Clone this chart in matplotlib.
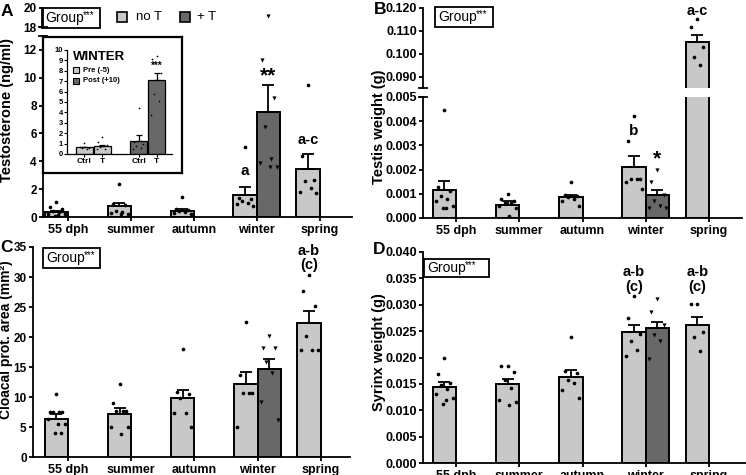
import numpy as np
import matplotlib.pyplot as plt
from matplotlib.patches import Rectangle
from matplotlib.ticker import FormatStrFormatter

plt.rcParams['font.family'] = ['Liberation Sans', 'DejaVu Sans']
plt.rcParams['font.weight'] = 'bold'

W, H = 746, 475
GRIS = '#c8c8c8'
OSCURO = '#686868'
ANCHO = 0.37

categorias = ['55 dph', 'summer', 'autumn', 'winter', 'spring']

# A: testosterona (ng/ml)
testo_media = [0.36, 0.77, 0.45, 1.60, 3.47]
testo_sem = [0.09, 0.23, 0.15, 0.56, 1.08]
testo_puntos = [
    [1.05, 0.7, 0.55, 0.45, 0.35, 0.25, 0.2, 0.15, 0.1],
    [2.4, 0.95, 0.85, 0.45, 0.35, 0.3, 0.25, 0.2],
    [1.45, 0.55, 0.5, 0.45, 0.35, 0.3, 0.25],
    [5.0, 1.4, 1.3, 1.15, 1.0, 0.9, 0.8],
    [9.46, 4.4, 2.65, 2.6, 2.05, 1.8, 1.75],
]
testo_t_media = 7.55
testo_t_sem = 1.91
testo_t_puntos = [19.2, 11.25, 8.55, 6.5, 4.2, 3.85, 3.6, 3.6]

# inset invierno
ins_etiquetas = ['Ctrl', 'T', 'Ctrl', 'T']
ins_pre_media = [0.64, 0.73]
ins_pre_sem = [0.08, 0.17]
ins_post_media = [1.28, 7.09]
ins_post_sem = [0.54, 0.74]
ins_pre_puntos = [[1.1, 0.7, 0.6, 0.55, 0.5], [1.6, 1.2, 0.85, 0.7, 0.5, 0.45]]
ins_post_puntos = [[4.47, 1.2, 0.95, 0.8, 0.6, 0.5], [9.42, 9.17, 7.83, 5.75, 5.11, 3.74]]

# B: peso testiculo (g)
testis_media = [0.00115, 0.00055, 0.00086, 0.00212, 0.105]
testis_sem = [0.00037, 0.00014, 0.00011, 0.00044, 0.003]
testis_puntos = [
    [0.00445, 0.0013, 0.0011, 0.0009, 0.0008, 0.0007, 0.0005, 0.0004, 0.0004],
    [0.0010, 0.0008, 0.0007, 0.0006, 0.0006, 0.0005, 0.0004, 0.0001],
    [0.0015, 0.00097, 0.0009, 0.00085, 0.0008, 0.0007, 0.0005],
    [0.0042, 0.0032, 0.0016, 0.0016, 0.0016, 0.0015, 0.0012],
    [0.1152, 0.1115, 0.1028, 0.0985, 0.0950],
]
testis_t_media = 0.00096
testis_t_sem = 0.00018
testis_t_puntos = [0.0020, 0.0015, 0.00095, 0.0007, 0.0005, 0.0004, 0.0004]

# C: area protuberancia cloacal (mm2)
cloaca_media = [6.35, 7.2, 9.8, 12.1, 22.4]
cloaca_sem = [0.75, 0.9, 1.3, 2.0, 2.0]
cloaca_puntos = [
    [10.5, 7.5, 7.5, 7.5, 7.5, 6.4, 5.5, 5.5, 4.0, 4.0],
    [12.2, 9.0, 7.6, 7.6, 7.6, 5.0, 5.0, 3.8],
    [18.0, 10.8, 10.5, 9.9, 7.4, 7.4, 5.0],
    [22.5, 13.7, 10.6, 10.6, 10.6, 5.0],
    [30.3, 27.6, 25.1, 20.1, 17.9, 17.9, 17.9],
]
cloaca_t_media = 14.6
cloaca_t_sem = 1.7
cloaca_t_puntos = [20.2, 18.1, 18.1, 15.8, 14.0, 9.1, 6.1]

# D: peso siringe (g)
siringe_media = [0.0144, 0.0150, 0.0163, 0.0248, 0.0261]
siringe_sem = [0.0009, 0.0010, 0.0013, 0.0014, 0.0015]
siringe_puntos = [
    [0.0200, 0.0169, 0.0152, 0.0148, 0.0140, 0.0131, 0.0124, 0.0120, 0.0112],
    [0.0184, 0.0184, 0.0173, 0.0158, 0.0142, 0.0119, 0.0116, 0.0110],
    [0.0238, 0.0174, 0.0170, 0.0158, 0.0152, 0.0139, 0.0124],
    [0.0316, 0.0274, 0.0245, 0.0232, 0.0214, 0.0202],
    [0.0302, 0.0301, 0.0248, 0.0238, 0.0212],
]
siringe_t_media = 0.0256
siringe_t_sem = 0.0012
siringe_t_puntos = [0.0310, 0.0286, 0.0262, 0.0243, 0.0231, 0.0198]

fig = plt.figure(figsize=(W / 100, H / 100), dpi=100)


def caja(x0, y0, x1, y1):
    # pixeles (desde arriba) -> fraccion de figura
    return [x0 / W, 1 - y1 / H, (x1 - x0) / W, (y1 - y0) / H]


def estilo(ax, ejex=True, tam=9):
    ax.set_facecolor('none')
    for lado in ['top', 'right']:
        ax.spines[lado].set_visible(False)
    ax.spines['left'].set_linewidth(1.3)
    ax.spines['bottom'].set_linewidth(1.3)
    ax.tick_params(direction='out', length=3, width=1.3, labelsize=9, pad=2)
    ax.tick_params(axis='y', labelsize=tam, pad=1.5)
    if not ejex:
        ax.spines['bottom'].set_visible(False)
        ax.tick_params(axis='x', bottom=False, labelbottom=False)


def tapa(ax, y, ancho_px):
    ax.plot([-4 / ancho_px, 4 / ancho_px], [y, y], transform=ax.transAxes,
            color='k', lw=1.3, clip_on=False)


PATRON = np.array([0, -0.26, 0.26, -0.13, 0.13, -0.36, 0.36, 0.06, -0.06, 0.2])


def puntos(ax, x, valores, marcador='o', s=7):
    dx = PATRON[:len(valores)] * ANCHO
    ax.scatter(x + dx, valores, s=s, c='k', marker=marcador, lw=0, zorder=4)


def barras(ax, medias, sems, lista_puntos, t_media, t_sem, t_puntos):
    x = np.arange(len(categorias))
    xs = x - ANCHO / 2
    xt = 3 + ANCHO / 2
    ax.bar(xs, medias, ANCHO, color=GRIS, edgecolor='k', lw=1.4, zorder=2)
    ax.bar([xt], [t_media], ANCHO, color=OSCURO, edgecolor='k', lw=1.4, zorder=2)
    ax.errorbar(xs, medias, yerr=[np.zeros(len(medias)), sems], fmt='none',
                ecolor='k', elinewidth=1.3, capsize=4.5, capthick=1.3, zorder=3)
    ax.errorbar([xt], [t_media], yerr=[[0], [t_sem]], fmt='none',
                ecolor='k', elinewidth=1.3, capsize=4.5, capthick=1.3, zorder=3)
    for i, vals in enumerate(lista_puntos):
        puntos(ax, xs[i], vals)
    puntos(ax, xt, t_puntos, 'v', 9)
    ax.set_xticks(x, categorias)
    return xs, xt


def caja_grupo(x0, y0, x1, y1):
    fig.patches.append(Rectangle((x0 / W, 1 - y1 / H), (x1 - x0) / W, (y1 - y0) / H,
                                 transform=fig.transFigure, fill=False, ec='k', lw=1.3))
    yc = 1 - (y0 + y1) / 2 / H
    fig.text((x0 + 3) / W, yc, 'Group', fontsize=10, fontweight='normal', va='center')
    fig.text((x0 + 41) / W, yc + 3 / H, '***', fontsize=7, fontweight='normal', va='center')


def cuadro(x0, y0, lado, color, lw=1.2):
    fig.patches.append(Rectangle((x0 / W, 1 - (y0 + lado) / H), lado / W, lado / H,
                                 transform=fig.transFigure, fc=color, ec='k', lw=lw))


# ---------- panel A ----------
axA = fig.add_axes(caja(43, 36, 352, 217))
xs, xt = barras(axA, testo_media, testo_sem, testo_puntos, testo_t_media, testo_t_sem, testo_t_puntos)
estilo(axA, tam=8.5)
axA.set_xlim(-0.397, 4.515)
axA.set_ylim(0, 13)
axA.set_yticks(range(0, 13, 2))
tapa(axA, 1, 309)
axA.text(xs[3], 3.3, 'a', ha='center', va='center', fontsize=11)
axA.text(xt, 10.1, '**', ha='center', va='center', fontsize=15)
axA.text(xs[4], 5.5, 'a-c', ha='center', va='center', fontsize=10.5)

axA2 = fig.add_axes(caja(43, 8, 352, 27))
barras(axA2, testo_media, testo_sem, testo_puntos, testo_t_media, testo_t_sem, testo_t_puntos)
estilo(axA2, ejex=False, tam=8.5)
axA2.set_xlim(-0.397, 4.515)
axA2.set_ylim(18, 20)
axA2.set_yticks([18, 20])
tapa(axA2, 0, 309)

# inset invierno
axF = fig.add_axes(caja(43, 37, 182, 173))
axF.set_xticks([])
axF.set_yticks([])
for sp in axF.spines.values():
    sp.set_linewidth(1.6)

axI = fig.add_axes(caja(67, 50, 172, 154))
ix = np.array([0, 1, 3, 4])
axI.bar(ix[:2], ins_pre_media, 0.95, color=GRIS, edgecolor='k', lw=0.9, zorder=2)
axI.bar(ix[2:], ins_post_media, 0.95, color=OSCURO, edgecolor='k', lw=0.9, zorder=2)
axI.errorbar(ix, ins_pre_media + ins_post_media,
             yerr=[np.zeros(4), ins_pre_sem + ins_post_sem], fmt='none',
             ecolor='k', elinewidth=0.9, capsize=2.5, capthick=0.9, zorder=3)
for k, vals in enumerate(ins_pre_puntos + ins_post_puntos):
    dx = PATRON[:len(vals)] * 0.9
    axI.scatter(ix[k] + dx, vals, s=1.5, c='k', lw=0, zorder=4)
axI.set_facecolor('none')
for lado in ['top', 'right']:
    axI.spines[lado].set_visible(False)
axI.spines['left'].set_linewidth(0.9)
axI.spines['bottom'].set_linewidth(0.9)
axI.tick_params(direction='out', length=2, width=0.8, labelsize=5.5, pad=1)
axI.set_xticks(ix, ins_etiquetas, fontsize=6)
axI.set_yticks(range(0, 11))
axI.set_xlim(-0.97, 4.86)
axI.set_ylim(0, 10)
axI.text(4, 8.5, '***', ha='center', va='center', fontsize=7)
fig.text(73 / W, 1 - 57 / H, 'WINTER', fontsize=9.5, va='center')
cuadro(73, 67, 6, GRIS, 0.8)
cuadro(73, 78, 6, OSCURO, 0.8)
fig.text(83 / W, 1 - 70 / H, 'Pre (-5)', fontsize=5.5, va='center')
fig.text(83 / W, 1 - 81 / H, 'Post (+10)', fontsize=5.5, va='center')

# leyenda general
caja_grupo(42, 8, 100, 28)
cuadro(117, 12, 10, GRIS)
cuadro(180, 12, 10, OSCURO)
fig.text(136 / W, 1 - 17 / H, 'no T', fontsize=9.5, fontweight='normal', va='center')
fig.text(197 / W, 1 - 17 / H, '+ T', fontsize=9.5, fontweight='normal', va='center')

# ---------- panel B ----------
axB = fig.add_axes(caja(423, 97, 742, 218))
xs, xt = barras(axB, testis_media, testis_sem, testis_puntos, testis_t_media, testis_t_sem, testis_t_puntos)
estilo(axB)
axB.set_xlim(-0.522, 4.522)
axB.set_ylim(0, 0.005)
axB.set_yticks(np.arange(0, 0.0051, 0.001))
axB.yaxis.set_major_formatter(FormatStrFormatter('%.3f'))
tapa(axB, 1, 319)
axB.text(xs[3], 0.0036, 'b', ha='center', va='center', fontsize=11)
axB.text(xt, 0.00245, '*', ha='center', va='center', fontsize=15)

axB2 = fig.add_axes(caja(423, 7.8, 742, 88))
barras(axB2, testis_media, testis_sem, testis_puntos, testis_t_media, testis_t_sem, testis_t_puntos)
estilo(axB2, ejex=False)
axB2.set_xlim(-0.522, 4.522)
axB2.set_ylim(0.085, 0.120)
axB2.set_yticks([0.090, 0.100, 0.110, 0.120])
axB2.yaxis.set_major_formatter(FormatStrFormatter('%.3f'))
tapa(axB2, 0, 319)
axB2.text(xs[4], 0.1187, 'a-c', ha='center', va='center', fontsize=10.5)
caja_grupo(435, 7, 493, 27)

# ---------- panel C ----------
axC = fig.add_axes(caja(33, 247, 350, 457))
xs, xt = barras(axC, cloaca_media, cloaca_sem, cloaca_puntos, cloaca_t_media, cloaca_t_sem, cloaca_t_puntos)
estilo(axC, tam=8.5)
axC.set_xlim(-0.554, 4.462)
axC.set_ylim(0, 35)
axC.set_yticks(range(0, 36, 5))
axC.text(xs[4], 33.2, 'a-b\n(c)', ha='center', va='center', fontsize=10.5, linespacing=1.0)
caja_grupo(43, 248, 100, 268)

# ---------- panel D ----------
axD = fig.add_axes(caja(423, 252, 746, 463))
xs, xt = barras(axD, siringe_media, siringe_sem, siringe_puntos, siringe_t_media, siringe_t_sem, siringe_t_puntos)
estilo(axD)
axD.set_xlim(-0.522, 4.585)
axD.set_ylim(0, 0.040)
axD.set_yticks(np.arange(0, 0.0401, 0.005))
axD.yaxis.set_major_formatter(FormatStrFormatter('%.3f'))
axD.text(xs[3], 0.0348, 'a-b\n(c)', ha='center', va='center', fontsize=10.5, linespacing=1.1)
axD.text(xs[4], 0.0348, 'a-b\n(c)', ha='center', va='center', fontsize=10.5, linespacing=1.1)
caja_grupo(424, 259, 489, 277)

# titulos de ejes y letras
fig.text(7.5 / W, 1 - 110 / H, 'Testosterone (ng/ml)', rotation=90, ha='center', va='center', fontsize=10.5)
fig.text(379 / W, 1 - 127 / H, 'Testis weight (g)', rotation=90, ha='center', va='center', fontsize=10.5)
fig.text(6.5 / W, 1 - 340 / H, 'Cloacal prot. area (mm²)', rotation=90, ha='center', va='center', fontsize=10)
fig.text(379 / W, 1 - 352 / H, 'Syrinx weight (g)', rotation=90, ha='center', va='center', fontsize=10.5)
for letra, lx, ly in [('A', 7, 11), ('B', 380, 10), ('C', 7, 247), ('D', 379, 249)]:
    fig.text(lx / W, 1 - ly / H, letra, fontsize=12.5, ha='center', va='center')

fig.savefig('out.png', dpi=100)
